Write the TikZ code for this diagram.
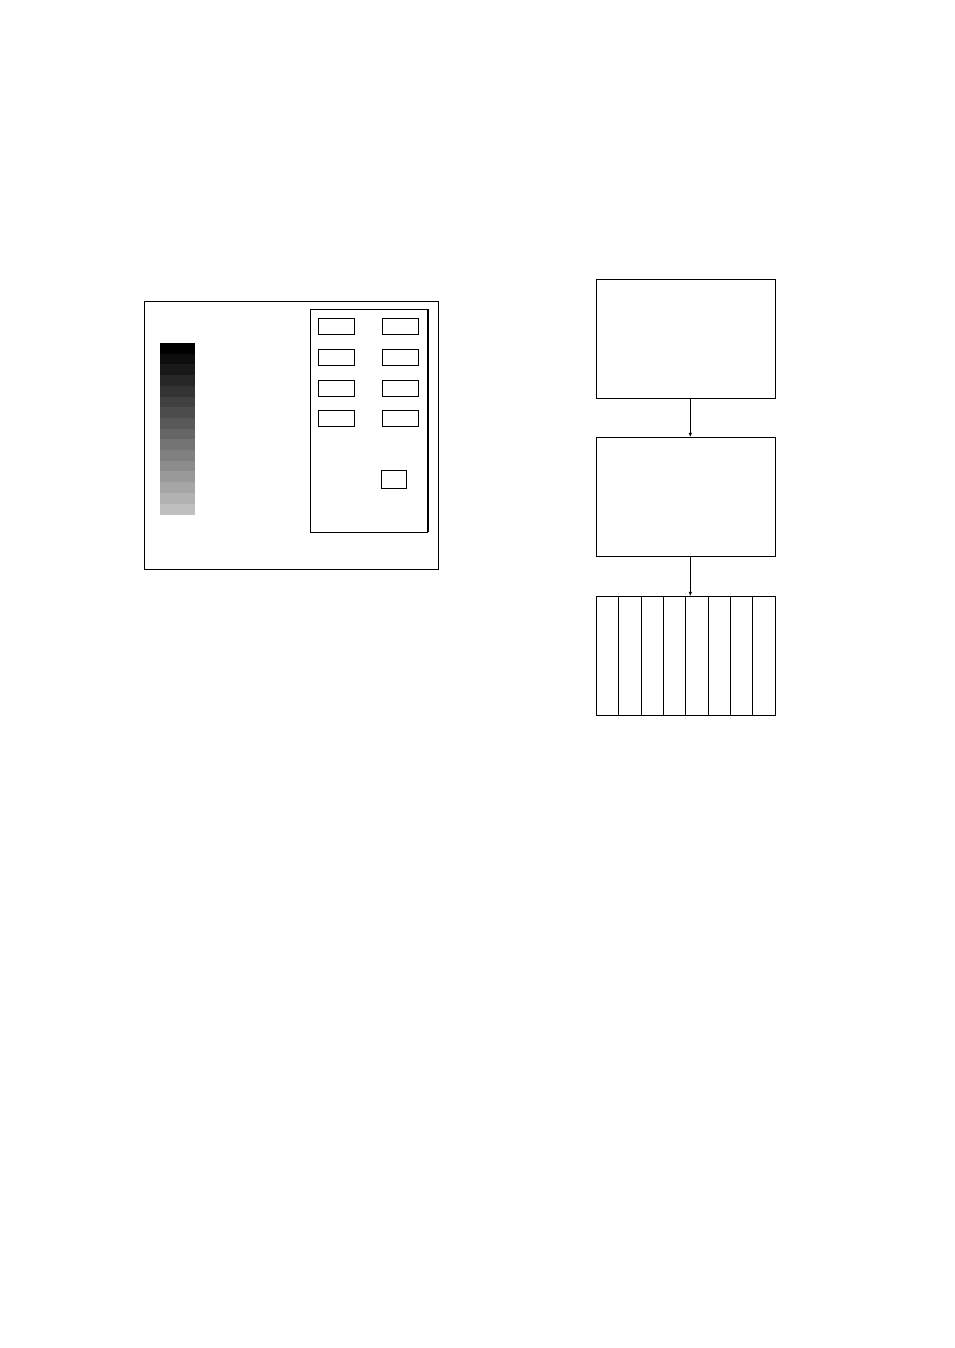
\documentclass[tikz,border=0pt]{standalone}
\usetikzlibrary{arrows.meta}
\begin{document}
\begin{tikzpicture}[x=1pt,y=-1pt,
  box/.style={draw=black,line width=0.9pt,rectangle,inner sep=0pt,outer sep=0pt,fill=white},
  key/.style={box,minimum width=36pt,minimum height=16pt},
  flow/.style={box,minimum width=179pt,minimum height=119pt},
  conn/.style={draw=black,line width=0.9pt,-{Latex[length=4.5pt,width=3.5pt]}}]
\useasboundingbox (0,0) rectangle (954,1348);
% outer frame
\node[box,minimum width=294pt,minimum height=268.5pt] (frame) at (291.5,435.25) {};
% gray scale bar
\foreach \i in {0,...,15}{
  \pgfmathsetmacro{\g}{100-\i*75/15}
  \fill[black!\g] (160,{343+\i*10.7}) rectangle (195,{343+(\i+1)*10.7+0.3});
}
% inner panel
\node[box,minimum width=116.7pt,minimum height=223pt] (panel) at (368.65,420.8) {};
\draw[line width=0.9pt] ([xshift=1pt]panel.north east) -- ([xshift=1pt]panel.south east);
% key boxes
\node[key] (k1) at (336.3,326.8) {};
\node[key] (k2) at (400.3,326.3) {};
\node[key] (k3) at (336.3,357.3) {};
\node[key] (k4) at (400.3,357.3) {};
\node[key] (k5) at (336.3,388.3) {};
\node[key] (k6) at (400.3,388.3) {};
\node[key] (k7) at (336.3,418.3) {};
\node[key] (k8) at (400.3,418.3) {};
\node[box,minimum width=25pt,minimum height=18pt] (k9) at (393.8,479.3) {};
% flowchart
\node[flow] (f1) at (685.8,338.7) {};
\node[flow] (f2) at (685.8,496.8) {};
\node[flow] (f3) at (685.8,655.8) {};
\foreach \xx in {618.3,641.3,663.3,685.7,708.3,730.3,752.3}{
  \draw[line width=0.9pt] (\xx,596.3) -- (\xx,715.3);
}
\draw[conn] (f1.south -| 690.3,0) -- (f2.north -| 690.3,0);
\draw[conn] (f2.south -| 690.3,0) -- (f3.north -| 690.3,0);
\end{tikzpicture}
\end{document}
